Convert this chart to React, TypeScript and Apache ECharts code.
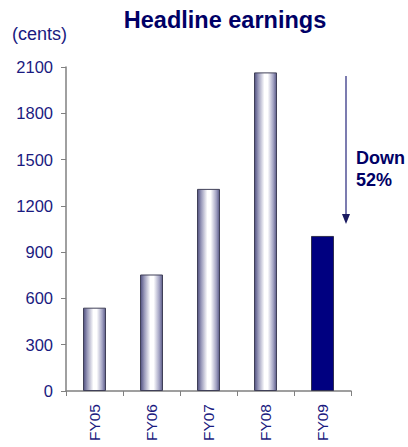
import React, { useEffect, useRef } from "react";
import * as echarts from "echarts";

const categories = ["FY05", "FY06", "FY07", "FY08", "FY09"];
const earnings = [540, 755, 1310, 2065, 1005];
const yTicks = { min: 0, max: 2100, interval: 300 };
const titleText = "Headline earnings";
const unitText = "(cents)";
const noteLines = ["Down", "52%"];

export default function App() {
  const ref = useRef<HTMLDivElement>(null);
  useEffect(() => {
    if (!ref.current) return;
    const chart = echarts.init(ref.current, null, { renderer: "svg" });
    const navy = "#000066";
    const labelColor = "#1a1a80";
    const font = "Liberation Sans, Arial, sans-serif";
    const grad = new echarts.graphic.LinearGradient(0, 0, 1, 0, [
      { offset: 0, color: "#505080" },
      { offset: 0.18, color: "#9c9cbc" },
      { offset: 0.45, color: "#ffffff" },
      { offset: 0.6, color: "#ffffff" },
      { offset: 0.85, color: "#a4a4c4" },
      { offset: 1, color: "#5a5a88" },
    ]);
    const data = earnings.map((v, i) =>
      i === earnings.length - 1
        ? { value: v, itemStyle: { color: "#000080", borderColor: "#303050", borderWidth: 1 } }
        : { value: v, itemStyle: { color: grad, borderColor: "#404058", borderWidth: 1 } }
    );
    chart.setOption({
      animation: false,
      backgroundColor: "#ffffff",
      textStyle: { fontFamily: font },
      title: {
        text: titleText,
        left: 220,
        textAlign: "center",
        top: 3,
        textStyle: { fontSize: 23.5, fontWeight: "bold", color: navy, fontFamily: font },
      },
      grid: { left: 66, right: 57, top: 67, bottom: 56, containLabel: false },
      xAxis: {
        type: "category",
        data: categories,
        axisLine: { lineStyle: { color: "#808080", width: 1.5 } },
        axisTick: { show: true, length: 5, alignWithLabel: false, lineStyle: { color: "#808080" } },
        axisLabel: { rotate: 90, color: labelColor, fontSize: 15.5, margin: 13 },
      },
      yAxis: {
        type: "value",
        min: yTicks.min,
        max: yTicks.max,
        interval: yTicks.interval,
        splitLine: { show: false },
        axisLine: { show: true, lineStyle: { color: "#808080", width: 1.5 } },
        axisTick: { show: true, length: 5, lineStyle: { color: "#808080" } },
        axisLabel: { color: labelColor, fontSize: 16.5, margin: 13, formatter: (v: number) => String(v) },
      },
      series: [
        {
          type: "bar",
          data,
          barWidth: 23,
        },
      ],
      graphic: [
        {
          type: "text",
          left: 12,
          top: 25,
          style: { text: unitText, fill: labelColor, fontSize: 18, fontFamily: font },
        },
        {
          type: "line",
          shape: { x1: 346, y1: 76, x2: 346, y2: 216 },
          style: { stroke: "#7c7cb0", lineWidth: 2 },
        },
        {
          type: "polygon",
          shape: { points: [[342, 214], [350, 214], [346, 224]] },
          style: { fill: "#1a1a60" },
        },
        {
          type: "text",
          left: 356,
          top: 147,
          style: {
            text: noteLines.join("\n"),
            fill: navy,
            fontSize: 18,
            fontWeight: "bold",
            lineHeight: 22,
            fontFamily: font,
          },
        },
      ],
    });
    return () => chart.dispose();
  }, []);
  return <div ref={ref} style={{ width: 408, height: 447, position: "absolute", left: 0, top: 0 }} />;
}
